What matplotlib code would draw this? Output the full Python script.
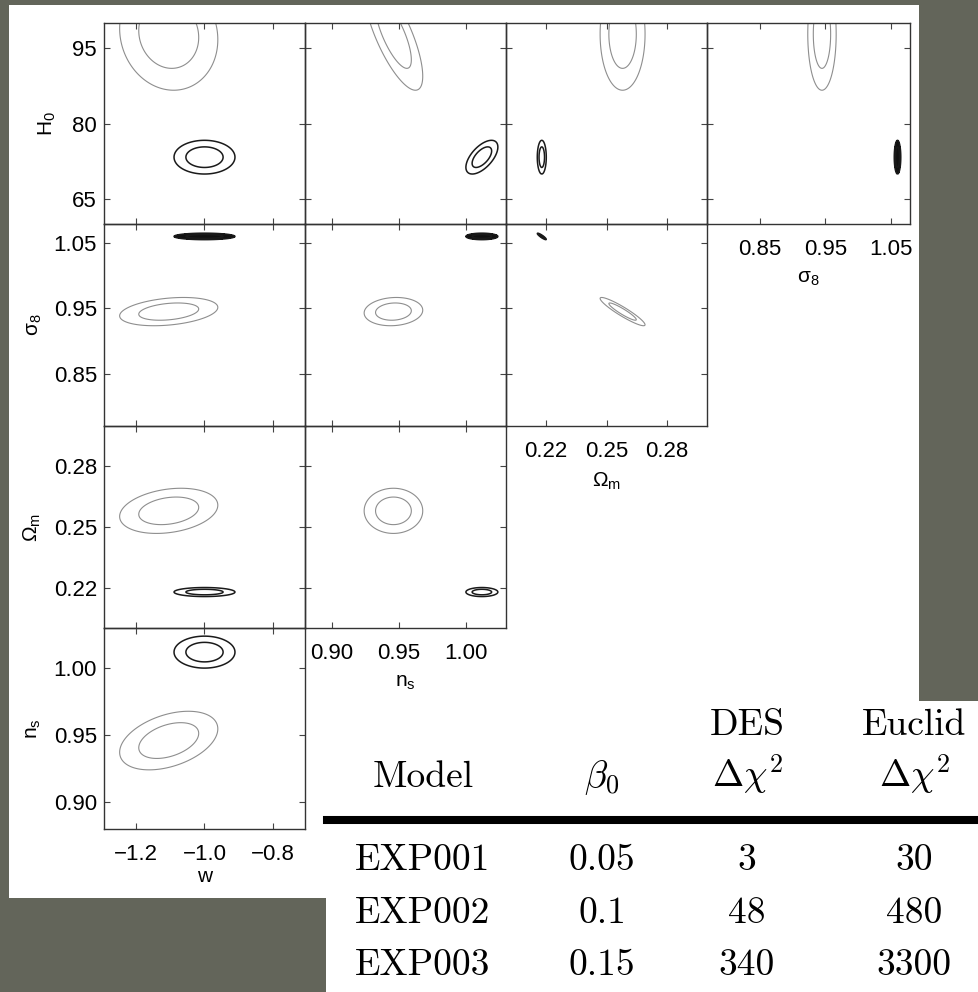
import numpy as np
import matplotlib
matplotlib.use('Agg')
import matplotlib.pyplot as plt
from matplotlib.patches import Rectangle
from matplotlib.lines import Line2D

plt.rcParams['font.family'] = ['Liberation Sans', 'DejaVu Sans']
plt.rcParams['font.size'] = 16
plt.rcParams['mathtext.fontset'] = 'custom'
plt.rcParams['mathtext.rm'] = 'Liberation Sans'
plt.rcParams['mathtext.it'] = 'Liberation Sans:italic'
plt.rcParams['mathtext.bf'] = 'Liberation Sans:bold'

# parameters along the columns (x) and rows (y) of the triangle
col_params = ['w', 'ns', 'om', 's8']
row_params = ['H0', 's8', 'om', 'ns']

axis_labels = {'w': 'w', 'ns': r'$\mathregular{n_s}$', 'om': r'$\mathregular{\Omega_m}$',
               's8': r'$\mathregular{\sigma_8}$', 'H0': r'$\mathregular{H_0}$'}
axis_ranges = {'w': (-1.295, -0.705), 'ns': (0.88, 1.03), 'om': (0.20, 0.30),
               's8': (0.77, 1.079), 'H0': (60.0, 100.0)}
axis_ticks = {'w': [-1.2, -1.0, -0.8], 'ns': [0.90, 0.95, 1.00],
              'om': [0.22, 0.25, 0.28], 's8': [0.85, 0.95, 1.05],
              'H0': [65, 80, 95]}
tick_fmt = {'w': '%.1f', 'ns': '%.2f', 'om': '%.2f', 's8': '%.2f', 'H0': '%d'}

# grey contours (wide model): marginal mean and 1-sigma
grey_mean = {'w': -1.105, 'ns': 0.946, 'om': 0.258, 's8': 0.945, 'H0': 97.8}
grey_sigma = {'w': 0.058, 'ns': 0.0088, 'om': 0.0045, 's8': 0.0087, 'H0': 4.5}
grey_rho = {('w', 'H0'): -0.1, ('ns', 'H0'): -0.75, ('om', 'H0'): 0.0,
            ('s8', 'H0'): 0.0, ('w', 's8'): 0.3, ('ns', 's8'): 0.1,
            ('om', 's8'): -0.93, ('w', 'om'): 0.25, ('ns', 'om'): 0.0,
            ('w', 'ns'): 0.4}

# black contours (tight model)
black_mean = {'w': -1.0, 'ns': 1.012, 'om': 0.2178, 's8': 1.06, 'H0': 73.3}
black_sigma = {'w': 0.036, 'ns': 0.0048, 'om': 0.0009, 's8': 0.002, 'H0': 1.35}
black_rho = {('w', 'H0'): 0.0, ('ns', 'H0'): 0.6, ('om', 'H0'): 0.0,
             ('s8', 'H0'): 0.0, ('w', 's8'): 0.0, ('ns', 's8'): 0.0,
             ('om', 's8'): -0.9, ('w', 'om'): 0.0, ('ns', 'om'): 0.0,
             ('w', 'ns'): 0.0}

levels = [2.30, 6.17]  # 68% and 95% for 2 parameters

# table
table_models = ['EXP001', 'EXP002', 'EXP003']
table_beta0 = ['0.05', '0.1', '0.15']
table_des = ['3', '48', '340']
table_euclid = ['30', '480', '3300']

W, H = 979, 992
bg = '#63655a'

# panels where the black contours are so tight they print as a solid blob
solid_black = [('w', 's8'), ('ns', 's8'), ('s8', 'H0')]


def box(x0, y0, x1, y1):
    return [x0 / W, 1 - y1 / H, (x1 - x0) / W, (y1 - y0) / H]


def chi2_grid(xp, yp, mean, sigma, rho):
    xs = np.linspace(*axis_ranges[xp], 600)
    ys = np.linspace(*axis_ranges[yp], 600)
    X, Y = np.meshgrid(xs, ys)
    dx = (X - mean[xp]) / sigma[xp]
    dy = (Y - mean[yp]) / sigma[yp]
    r = rho[(xp, yp)]
    return X, Y, (dx ** 2 - 2 * r * dx * dy + dy ** 2) / (1 - r ** 2)


fig = plt.figure(figsize=(W / 100, H / 100), dpi=100, facecolor=bg)

# white paper behind the plots and behind the table
fig.add_artist(Rectangle((9 / W, 1 - 898 / H), 910 / W, 893 / H, transform=fig.transFigure,
                         facecolor='white', edgecolor='none', zorder=-2))
fig.add_artist(Rectangle((326 / W, 0), (W - 326) / W, (H - 701) / H, transform=fig.transFigure,
                         facecolor='white', edgecolor='none', zorder=-2))

col_edges = [104, 305, 506, 707, 910]
row_edges = [23, 224, 426, 628, 829]
ylabelpad = [10, 7, 8, 8]
xlabelpad = {'w': 1, 'ns': 6, 'om': 6, 's8': 6}

for r, yp in enumerate(row_params):
    for c in range(4 - r):
        xp = col_params[c]
        ax = fig.add_axes(box(col_edges[c], row_edges[r], col_edges[c + 1], row_edges[r + 1]))
        ax.set_facecolor('none')

        X, Y, g = chi2_grid(xp, yp, grey_mean, grey_sigma, grey_rho)
        ax.contour(X, Y, g, levels=levels, colors='#8e8e8e', linewidths=0.8)
        X, Y, b = chi2_grid(xp, yp, black_mean, black_sigma, black_rho)
        if (xp, yp) in solid_black:
            ax.contourf(X, Y, b, levels=[0, levels[1]], colors='#111111')
        ax.contour(X, Y, b, levels=levels, colors='#1a1a1a', linewidths=1.1)

        ax.set_xlim(axis_ranges[xp])
        ax.set_ylim(axis_ranges[yp])
        ax.set_xticks(axis_ticks[xp])
        ax.set_yticks(axis_ticks[yp])
        ax.set_xticklabels([(tick_fmt[xp] % t).replace('-', '\u2212') for t in axis_ticks[xp]])
        ax.set_yticklabels([tick_fmt[yp] % t for t in axis_ticks[yp]])
        ax.tick_params(direction='in', top=True, right=True, length=4, width=0.8,
                       color='#444444', labelsize=16)
        ax.tick_params(axis='x', pad=11)
        ax.tick_params(axis='y', pad=5)
        for s in ax.spines.values():
            s.set_color('#333333')
            s.set_linewidth(1.0)

        if c == 0:
            ax.set_ylabel(axis_labels[yp], labelpad=ylabelpad[r], fontsize=15)
        else:
            ax.tick_params(labelleft=False)
        if r == 3 - c:
            ax.set_xlabel(axis_labels[xp], labelpad=xlabelpad[xp], fontsize=15)
        else:
            ax.tick_params(labelbottom=False)

# table
tfont = dict(fontfamily='cmr10', fontsize=27, va='baseline', ha='center')
mfont = dict(math_fontfamily='cm', fontsize=27, va='baseline', ha='center')
col_x = [423, 602, 747, 914]
fig.text(col_x[2] / W, 1 - 735 / H, 'DES', **tfont)
fig.text(col_x[3] / W, 1 - 735 / H, 'Euclid', **tfont)
fig.text(col_x[0] / W, 1 - 787 / H, 'Model', **tfont)
fig.text(col_x[1] / W, 1 - 787 / H, r'$\beta_0$', **mfont)
fig.text(col_x[2] / W, 1 - 787 / H, r'$\Delta\chi^2$', **mfont)
fig.text(col_x[3] / W, 1 - 787 / H, r'$\Delta\chi^2$', **mfont)
fig.add_artist(Line2D([327 / W, 1.0], [1 - 820 / H, 1 - 820 / H], transform=fig.transFigure,
                      color='black', linewidth=5.8))

row_base = [870, 923, 975]
for i in range(len(table_models)):
    y = 1 - row_base[i] / H
    fig.text(col_x[0] / W, y, table_models[i], **tfont)
    fig.text(col_x[1] / W, y, table_beta0[i], **tfont)
    fig.text(col_x[2] / W, y, table_des[i], **tfont)
    fig.text(col_x[3] / W, y, table_euclid[i], **tfont)

fig.savefig('out.png', dpi=100, facecolor=bg)
